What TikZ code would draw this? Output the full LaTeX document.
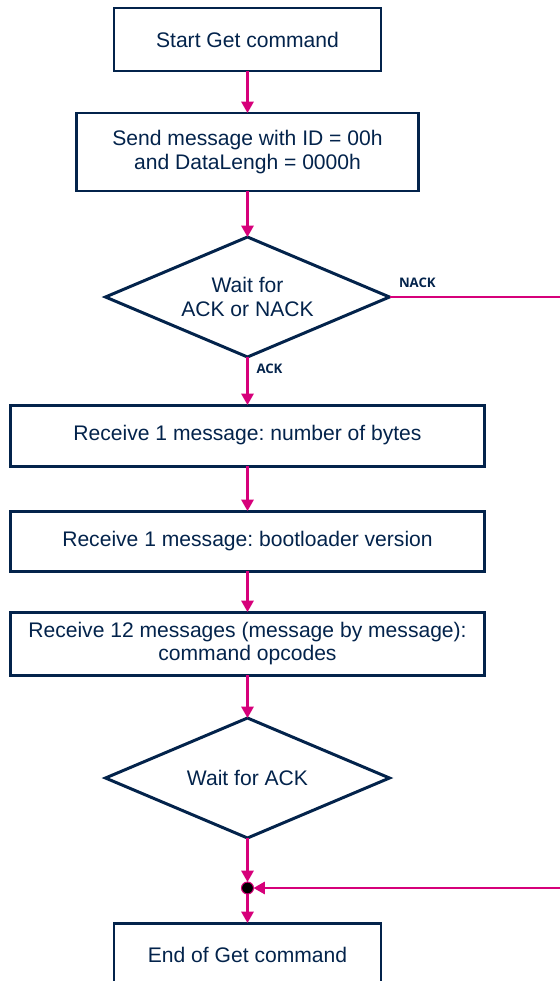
\documentclass[tikz,border=0pt]{standalone}
\usepackage{fontspec}
\setmainfont{Liberation Sans}
\newfontfamily\lblfont{Open Sans}
\frenchspacing
\usepackage{tikz}
\usetikzlibrary{arrows.meta,shapes.geometric,positioning}
\definecolor{stnavy}{RGB}{3,35,75}
\definecolor{stpink}{RGB}{214,0,122}

\begin{document}
\begin{tikzpicture}[node distance=0.9cm,
    box/.style={draw=stnavy, line width=1.7pt, text=stnavy, align=center, inner sep=2pt, outer sep=0pt, font=\fontsize{12}{13.5}\selectfont},
    decision/.style={diamond, aspect=2.37, draw=stnavy, line width=1.7pt, text=stnavy, align=center, minimum width=5.68cm, minimum height=2.4cm, inner sep=0pt, outer sep=0pt, font=\fontsize{12}{13.5}\selectfont},
    flow/.style={draw=stpink, line width=1.3pt, -{Triangle[width=7pt,length=6.5pt]}},
    lbl/.style={text=stnavy, font=\lblfont\bfseries\fontsize{7.5}{9}\selectfont}]
  \useasboundingbox (0,0) rectangle (11.2,-19.62);
  \node[box, minimum width=5.34cm, minimum height=1.26cm] (start) at (4.95,-0.79) {Start Get command};
  \node[box, minimum width=6.84cm, minimum height=1.56cm, below=0.84cm of start] (send) {Send message with ID = 00h\\and DataLengh = 0000h};
  \node[decision, below=0.92cm of send] (waitack) {Wait for\\ACK or NACK};
  \node[box, minimum width=9.48cm, minimum height=1.22cm, below=0.96cm of waitack] (nbytes) {Receive 1 message: number of bytes};
  \node[box, minimum width=9.48cm, minimum height=1.2cm, below=0.9cm of nbytes] (version) {Receive 1 message: bootloader version};
  \node[box, minimum width=9.48cm, minimum height=1.26cm, below=0.82cm of version] (opcodes) {Receive 12 messages (message by message):\\command opcodes};
  \node[decision, below=0.86cm of opcodes] (waitfinal) {Wait for ACK};
  \node[circle, fill=black, draw=stpink, line width=0.6pt, inner sep=0pt, outer sep=0pt, minimum size=0.24cm, below=0.88cm of waitfinal] (join) {};
  \node[box, minimum width=5.34cm, minimum height=1.26cm, below=0.58cm of join] (endget) {End of Get command};
  \coordinate (nackright) at (11.3,0);

  \draw[flow] (start) -- (send);
  \draw[flow] (send) -- (waitack);
  \draw[flow] (waitack) -- node[lbl, anchor=north west, pos=0, xshift=0.04cm] {ACK} (nbytes);
  \draw[flow] (nbytes) -- (version);
  \draw[flow] (version) -- (opcodes);
  \draw[flow] (opcodes) -- (waitfinal);
  \draw[flow] (waitfinal) -- (join);
  \draw[flow] (join) -- (endget);
  \draw[flow] (waitack.east) -- node[lbl, anchor=south west, pos=0, xshift=0.05cm, yshift=0.04cm] {NACK} (waitack.east -| nackright) |- (join);
\end{tikzpicture}
\end{document}
